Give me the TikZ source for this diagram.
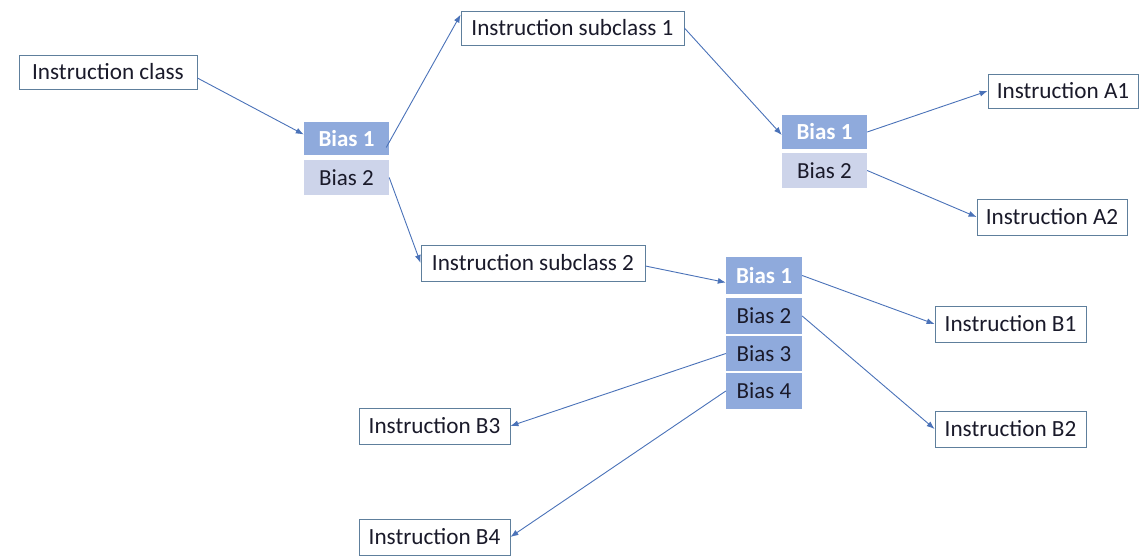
\documentclass[tikz,border=0pt]{standalone}
\usepackage{fontspec}
\setmainfont{Carlito}
\usetikzlibrary{arrows.meta}
\definecolor{bleuFonce}{HTML}{8FAADC}
\definecolor{bleuClair}{HTML}{CDD4EA}
\definecolor{bleuTrait}{HTML}{4A72B8}
\definecolor{bordGris}{HTML}{5E7F9C}
\definecolor{texteNoir}{HTML}{1A1A2A}
\tikzset{
InstrBoite/.style={
 draw=bordGris,
 fill=white,
 line width=0.8pt,
 minimum width=#1,
 minimum height=34pt,
 inner xsep=0pt,
 text=texteNoir,
 font=\fontsize{23.2}{27}\selectfont
 },
InstrBoite/.default={150pt},
BiasFort/.style={
 fill=bleuFonce,
 minimum width=#1,
 minimum height=34pt,
 inner sep=0pt,
 text=white,
 font=\fontsize{23}{27}\selectfont\bfseries
 },
BiasFort/.default={85pt},
BiasMoyen/.style={
 BiasFort=#1,
 text=texteNoir,
 font=\fontsize{23}{27}\selectfont
 },
BiasMoyen/.default={76pt},
BiasLeger/.style={
 BiasMoyen=85pt,
 fill=bleuClair
 },
Lien/.style={
 draw=bleuTrait,
 line width=0.9pt,
 -{Latex[length=8pt,width=6pt]}
 }
}

\begin{document}
\begin{tikzpicture}[x=1pt,y=-1pt]
\useasboundingbox (0,0) rectangle (1144,555);
% left part
\node[InstrBoite=178pt] (cls) at (108,72) {Instruction class};
\node[BiasFort,minimum height=33pt] (lb1) at (346.5,138.5) {Bias 1};
\node[BiasLeger,minimum height=35pt] (lb2) at (346.5,177.5) {Bias 2};
\node[InstrBoite=223pt] (sc1) at (572.5,28) {Instruction subclass 1};
\node[InstrBoite=224pt,minimum height=36pt] (sc2) at (533,263) {Instruction subclass 2};
% subclass 1 biases
\node[BiasFort] (rb1) at (824.5,132) {Bias 1};
\node[BiasLeger,minimum height=35pt] (rb2) at (824.5,170.5) {Bias 2};
\node[InstrBoite] (a1) at (1063,91) {Instruction A1};
\node[InstrBoite,minimum height=36pt] (a2) at (1052,217) {Instruction A2};
% subclass 2 biases
\node[BiasFort=76pt,minimum height=37pt] (bb1) at (764,275.5) {Bias 1};
\node[BiasMoyen,minimum height=36pt] (bb2) at (764,316) {Bias 2};
\node[BiasMoyen,minimum height=35pt] (bb3) at (764,353.5) {Bias 3};
\node[BiasMoyen,minimum height=36pt] (bb4) at (764,391) {Bias 4};
\node[InstrBoite=151pt,minimum height=36pt] (b1) at (1010.5,324) {Instruction B1};
\node[InstrBoite=151pt,minimum height=36pt] (b2) at (1010.5,429) {Instruction B2};
\node[InstrBoite=151pt,minimum height=36pt] (b3) at (434.5,426) {Instruction B3};
\node[InstrBoite=151pt,minimum height=36pt] (b4) at (434.5,537) {Instruction B4};
% arrows
\draw[Lien] ([yshift=-6pt]cls.east) -- ([yshift=4pt]lb1.west);
\draw[Lien] ([xshift=-3pt,yshift=-9pt]lb1.east) -- ([yshift=-4pt]sc1.north west);
\draw[Lien] (lb2.east) -- (sc2.west);
\draw[Lien] (sc1.east) -- ([yshift=-3pt]rb1.west);
\draw[Lien] (rb1.east) -- (a1.west);
\draw[Lien] (rb2.east) -- (a2.west);
\draw[Lien] ([yshift=-3pt]sc2.east) -- ([yshift=-7pt]bb1.west);
\draw[Lien] (bb1.east) -- (b1.west);
\draw[Lien] (bb2.east) -- (b2.west);
\draw[Lien] (bb3.west) -- (b3.east);
\draw[Lien] (bb4.west) -- (b4.east);
\end{tikzpicture}
\end{document}
